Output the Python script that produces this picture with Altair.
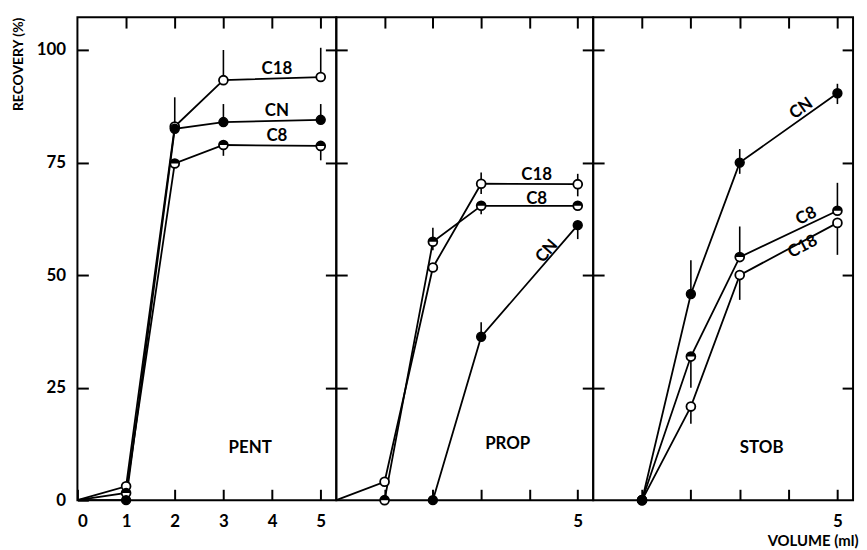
import altair as alt
import pandas as pd

FONT = "Lato"

# ---- data: volume (ml) vs recovery (%) ----
PENT_VOL = [0, 1, 2, 3, 5]
PENT_C18 = [0, 3.1, 83.0, 93.3, 94.0]
PENT_CN = [0, 0.0, 82.5, 84.0, 84.5]
PENT_C8 = [0, 1.6, 74.8, 78.9, 78.7]

PROP_VOL_C18 = [0, 1, 2, 3, 5]
PROP_C18 = [0, 4.1, 51.7, 70.3, 70.2]
PROP_VOL_C8 = [1, 2, 3, 5]
PROP_C8 = [0, 57.4, 65.4, 65.4]
PROP_VOL_CN = [2, 3, 5]
PROP_CN = [0, 36.3, 61.1]

STOB_VOL = [1, 2, 3, 5]
STOB_CN = [0, 45.8, 75.0, 90.4]
STOB_C8 = [0, 31.9, 54.0, 64.3]
STOB_C18 = [0, 20.8, 50.0, 61.6]

# error bars: panel, series, volume, low, high
ERR_PANEL = ["PENT"] * 7 + ["PROP"] * 6 + ["STOB"] * 9
ERR_SERIES = ["C18", "C18", "CN", "CN", "CN", "C8", "C8",
              "C18", "C18", "C8", "C8", "CN", "CN",
              "CN", "CN", "CN", "C8", "C8", "C8", "C18", "C18", "C18"]
ERR_VOL = [3, 5, 2, 3, 5, 3, 5,
           3, 5, 2, 3, 3, 5,
           2, 3, 5, 2, 3, 5, 2, 3, 5]
ERR_LO = [93.3, 94.0, 82.5, 84.0, 84.5, 76.5, 75.5,
          68.0, 67.5, 55.5, 63.5, 36.3, 58.0,
          45.8, 72.5, 88.0, 25.0, 54.0, 64.3, 17.0, 44.5, 54.5]
ERR_HI = [100.0, 100.5, 89.5, 88.0, 88.0, 78.9, 78.7,
          72.8, 72.5, 60.5, 66.0, 39.5, 61.1,
          53.3, 78.0, 92.5, 31.9, 60.8, 70.5, 20.8, 50.0, 61.6]

# curve labels: panel, text, volume, recovery, angle
LAB_PANEL = ["PENT", "PENT", "PENT", "PROP", "PROP", "PROP", "STOB", "STOB", "STOB"]
LAB_TEXT = ["C18", "CN", "C8", "C18", "C8", "CN", "CN", "C8", "C18"]
LAB_VOL = [4.1, 4.1, 4.1, 4.15, 4.15, 4.36, 4.26, 4.36, 4.29]
LAB_REC = [95.7, 86.4, 80.8, 72.3, 67.0, 55.3, 87.0, 63.1, 56.3]
LAB_ANG = [0, 0, 0, 0, 0, 311, 325, 334, 332]

PANEL_NAMES = ["PENT", "PROP", "STOB"]
PANEL_NAME_VOL = [3.55, 3.55, 3.45]
PANEL_NAME_REC = [11.6, 12.4, 11.6]

rows = []
def add(panel, series, vols, recs):
    for v, r in zip(vols, recs):
        rows.append({"panel": panel, "series": series, "vol": v, "rec": r})

add("PENT", "C18", PENT_VOL, PENT_C18)
add("PENT", "CN", PENT_VOL, PENT_CN)
add("PENT", "C8", PENT_VOL, PENT_C8)
add("PROP", "C18", PROP_VOL_C18, PROP_C18)
add("PROP", "C8", PROP_VOL_C8, PROP_C8)
add("PROP", "CN", PROP_VOL_CN, PROP_CN)
add("STOB", "CN", STOB_VOL, STOB_CN)
add("STOB", "C8", STOB_VOL, STOB_C8)
add("STOB", "C18", STOB_VOL, STOB_C18)
lines_df = pd.DataFrame(rows)

err_df = pd.DataFrame({"panel": ERR_PANEL, "series": ERR_SERIES, "vol": ERR_VOL,
                       "lo": ERR_LO, "hi": ERR_HI})
lab_df = pd.DataFrame({"panel": LAB_PANEL, "text": LAB_TEXT, "vol": LAB_VOL,
                       "rec": LAB_REC, "ang": LAB_ANG})
name_df = pd.DataFrame({"panel": PANEL_NAMES, "vol": PANEL_NAME_VOL, "rec": PANEL_NAME_REC})

HALF_TOP = "M-1,0 A1,1 0 0 1 1,0 Z"
MSIZE = 80
HEIGHT = 487
WIDTHS = [261, 259, 262]
XDOM = [0, 5.32]
YDOM = [0, 107.3]
TICK = {"expr": "-11"}


def panel(i, name):
    w = WIDTHS[i]
    xs = alt.Scale(domain=XDOM, nice=False, zero=False)
    ys = alt.Scale(domain=YDOM, nice=False, zero=False)
    if i == 0:
        bottom = alt.Axis(orient="bottom", values=[0, 1, 2, 3, 4, 5], format="d",
                          tickSize=TICK, labelPadding=25, domain=False, grid=False,
                          title=None)
        left = alt.Axis(orient="left", values=[0, 25, 50, 75, 100], format="d",
                        tickSize=TICK, labelPadding=23, domain=False, grid=False,
                        title="RECOVERY (%)", titleAnchor="end", titlePadding=11)
    else:
        extra = {}
        if i == 2:
            extra = dict(title="VOLUME (ml)", titleAlign="right",
                         titleX=w + 5, titleY=46, titleBaseline="alphabetic",
                         titleFontSize=15)
        else:
            extra = dict(title=None)
        bottom = alt.Axis(orient="bottom", values=[1, 2, 3, 4, 5],
                          labelExpr="datum.value == 5 ? '5' : ''",
                          tickSize=TICK, labelPadding=25, domain=False, grid=False,
                          **extra)
        left = alt.Axis(orient="left", values=[25, 50, 75, 100], labels=False,
                        tickSize=TICK, domain=False, grid=False, title=None)
    top = alt.Axis(orient="top", values=[1, 2, 3, 4, 5], labels=False,
                   tickSize=TICK, domain=False, grid=False, title=None)
    right = alt.Axis(orient="right", values=[25, 50, 75, 100], labels=False,
                     tickSize=TICK, domain=False, grid=False, title=None)

    d = lines_df[lines_df.panel == name]
    e = err_df[err_df.panel == name]
    lb = lab_df[lab_df.panel == name]
    nm = name_df[name_df.panel == name]
    pts = d[d.vol > 0]

    line = alt.Chart(d).mark_line(color="black", strokeWidth=1.8).encode(
        x=alt.X("vol:Q", scale=xs, axis=bottom),
        y=alt.Y("rec:Q", scale=ys, axis=left),
        detail="series:N", order="vol:Q")
    errs = alt.Chart(e).mark_rule(color="black", strokeWidth=1.6).encode(
        x=alt.X("vol:Q", scale=xs, axis=top),
        y=alt.Y("lo:Q", scale=ys, axis=right), y2="hi:Q")
    c18 = alt.Chart(pts[pts.series == "C18"]).mark_point(
        shape="circle", filled=True, fill="white", fillOpacity=1, stroke="black",
        strokeWidth=1.8, size=MSIZE, opacity=1).encode(
        x=alt.X("vol:Q", scale=xs, axis=None), y=alt.Y("rec:Q", scale=ys, axis=None))
    c8 = alt.Chart(pts[pts.series == "C8"]).mark_point(
        shape="circle", filled=True, fill="white", fillOpacity=1, stroke="black",
        strokeWidth=1.8, size=MSIZE, opacity=1).encode(
        x=alt.X("vol:Q", scale=xs, axis=None), y=alt.Y("rec:Q", scale=ys, axis=None))
    c8h = alt.Chart(pts[pts.series == "C8"]).mark_point(
        shape=HALF_TOP, filled=True, fill="black", strokeWidth=0, size=MSIZE,
        opacity=1).encode(
        x=alt.X("vol:Q", scale=xs, axis=None), y=alt.Y("rec:Q", scale=ys, axis=None))
    cn = alt.Chart(pts[pts.series == "CN"]).mark_point(
        shape="circle", filled=True, fill="black", stroke="black", strokeWidth=1.5,
        size=MSIZE, opacity=1).encode(
        x=alt.X("vol:Q", scale=xs, axis=None), y=alt.Y("rec:Q", scale=ys, axis=None))
    labels = alt.Chart(lb).mark_text(font=FONT, fontWeight="bold", fontSize=17,
                                     color="black", baseline="middle",
                                     align="center").encode(
        x=alt.X("vol:Q", scale=xs, axis=None), y=alt.Y("rec:Q", scale=ys, axis=None),
        text="text:N", angle=alt.Angle("ang:Q", scale=None))
    pname = alt.Chart(nm).mark_text(font=FONT, fontWeight="bold", fontSize=17,
                                    color="black", baseline="middle",
                                    align="center").encode(
        x=alt.X("vol:Q", scale=xs, axis=None), y=alt.Y("rec:Q", scale=ys, axis=None),
        text="panel:N")

    return alt.layer(line, errs, c18, c8, c8h, cn, labels, pname).resolve_axis(
        x="independent", y="independent").properties(width=w, height=HEIGHT)


chart = alt.hconcat(*[panel(i, n) for i, n in enumerate(PANEL_NAMES)],
                    spacing=0, bounds="flush").configure_view(
    stroke="black", strokeWidth=2
).configure_axis(
    labelFont=FONT, labelFontWeight="bold", labelFontSize=17, labelColor="black",
    titleFont=FONT, titleFontWeight="bold", titleFontSize=14, titleColor="black",
    tickColor="black", tickWidth=2
).properties(padding={"left": 2, "top": 5, "right": 0, "bottom": 0},
             background="white")

chart.save("out.html", embed_options={"renderer": "svg", "actions": False})
